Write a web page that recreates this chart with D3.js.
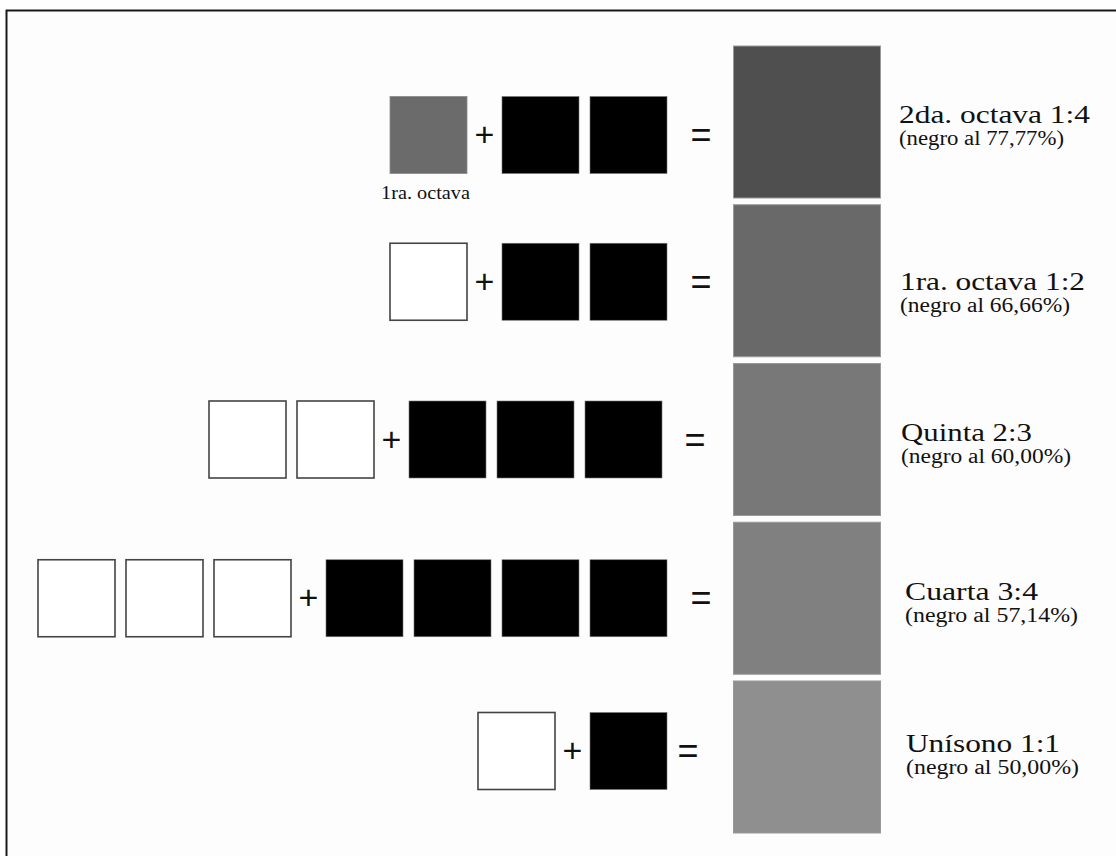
<!DOCTYPE html>
<html>
<head>
<meta charset="utf-8">
<script src="https://cdn.jsdelivr.net/npm/d3@7"></script>
<style>
  body { margin: 0; background: #fff; }
  svg { display: block; }
</style>
</head>
<body>
<div id="chart"></div>
<script>
//-----------------------------DATA-----------------------------//
const labels = ["2da. octava 1:4", "1ra. octava 1:2", "Quinta 2:3", "Cuarta 3:4", "Unísono 1:1"];
const notes = ["(negro al 77,77%)", "(negro al 66,66%)", "(negro al 60,00%)", "(negro al 57,14%)", "(negro al 50,00%)"];
const whiteCounts = [1, 1, 2, 3, 1];
const blackCounts = [2, 2, 3, 4, 1];
// lightness of the first "white" square (row 1 uses the 1ra. octava grey)
const firstTone = [0.42, 1, 1, 1, 1];
// lightness of the resulting mixed square
const mixTone = [0.31, 0.41, 0.47, 0.50, 0.56];
const subLabel = "1ra. octava";

//-----------------------------SVG------------------------------//
const width = 1116;
const height = 856;

const svg = d3.select("#chart")
    .append("svg")
    .attr("width", width)
    .attr("height", height);

// frame (image is cropped on the right and bottom)
svg.append("rect")
    .attr("x", 6.5)
    .attr("y", 10.5)
    .attr("width", 1300)
    .attr("height", 1000)
    .attr("fill", "#fdfdfd")
    .attr("stroke", "#1a1a1a")
    .attr("stroke-width", 2);

//----------------------------SCALES----------------------------//
const rows = d3.range(labels.length);
const yScale = d3.scaleBand()
    .domain(rows)
    .range([46, 833])
    .paddingInner(0.0425);

// slot index (counted from the right) -> left edge of a small square
const slot = d3.scaleLinear().domain([0, 1]).range([590, 502]);
const size = 77;
const plusGap = 24;

const grey = d3.scaleLinear().domain([0, 1]).range(["#000", "#fff"]);

// small per-row nudges
const rowDy = [13, 1, 0, 0, -6];
const rowDx = [0, 0, -5, 0, 0];
const eqX = [701, 701, 695, 701, 688];
const textDx = [0, 1, 2, 6, 7];
const textDy = [1, 9, 1, 2, -5];
// rendered text widths (serif in the original is a bit wider)
const titleW = [191, 185, 131, 133, 154];
const noteW = [165, 170, 170, 173, 173];

const serif = "'Liberation Serif', 'Times New Roman', serif";

//-------------------------2. DRAWING---------------------------//
rows.forEach(function(r) {
    const cy = yScale(r) + yScale.bandwidth() / 2;
    const sy = cy + rowDy[r];
    const g = svg.append("g");

    // black squares
    const blacks = d3.range(blackCounts[r]);
    g.selectAll(".black")
        .data(blacks)
        .enter()
        .append("rect")
        .attr("x", function(d) { return slot(d) + rowDx[r]; })
        .attr("y", sy - size / 2)
        .attr("width", size)
        .attr("height", size)
        .attr("fill", "#000")
        .attr("stroke", "#777")
        .attr("stroke-width", 0.6);

    // white squares
    const whiteStart = slot(blackCounts[r]) - plusGap;
    const whites = d3.range(whiteCounts[r]);
    g.selectAll(".white")
        .data(whites)
        .enter()
        .append("rect")
        .attr("x", function(d) { return whiteStart - (slot(0) - slot(d)) + rowDx[r]; })
        .attr("y", sy - size / 2)
        .attr("width", size)
        .attr("height", size)
        .attr("fill", function(d) { return d === whiteCounts[r] - 1 ? grey(firstTone[r]) : "#fff"; })
        .attr("stroke", function(d) { return (d === whiteCounts[r] - 1 && firstTone[r] < 1) ? "#8a8a8a" : "#444"; })
        .attr("stroke-width", function(d) { return (d === whiteCounts[r] - 1 && firstTone[r] < 1) ? 0.8 : 1.6; });

    if (firstTone[r] < 1) {
        const lx = whiteStart - (slot(0) - slot(whiteCounts[r] - 1)) + rowDx[r];
        g.append("text")
            .attr("x", lx - 9)
            .attr("y", sy + size / 2 + 25)
            .attr("textLength", 89)
            .attr("lengthAdjust", "spacingAndGlyphs")
            .style("font-family", serif)
            .style("font-size", "19px")
            .attr("fill", "#111")
            .text(subLabel);
    }

    // plus sign
    g.append("text")
        .attr("x", whiteStart + size + rowDx[r] + (plusGap + slot(0) - slot(1) - size) / 2)
        .attr("y", sy + 11)
        .attr("text-anchor", "middle")
        .style("font-family", "'Liberation Sans', Arial, sans-serif")
        .style("font-size", "34px")
        .attr("fill", "#111")
        .text("+");

    // equals sign
    g.append("text")
        .attr("x", eqX[r])
        .attr("y", sy + 12)
        .attr("text-anchor", "middle")
        .style("font-family", "'Liberation Sans', Arial, sans-serif")
        .style("font-size", "36px")
        .attr("fill", "#111")
        .text("=");

    // resulting square
    g.append("rect")
        .attr("x", 733.5)
        .attr("y", yScale(r))
        .attr("width", 147)
        .attr("height", yScale.bandwidth())
        .attr("fill", grey(mixTone[r]))
        .attr("stroke", "#999")
        .attr("stroke-width", 1);

    // labels
    const tx = 899 + textDx[r];
    const ty = cy + textDy[r];
    g.append("text")
        .attr("x", tx)
        .attr("y", ty)
        .attr("textLength", titleW[r])
        .attr("lengthAdjust", "spacingAndGlyphs")
        .style("font-family", serif)
        .style("font-size", "26px")
        .attr("fill", "#111")
        .text(labels[r]);

    g.append("text")
        .attr("x", tx)
        .attr("y", ty + 22)
        .attr("textLength", noteW[r])
        .attr("lengthAdjust", "spacingAndGlyphs")
        .style("font-family", serif)
        .style("font-size", "20px")
        .attr("fill", "#111")
        .text(notes[r]);
});
</script>
</body>
</html>
